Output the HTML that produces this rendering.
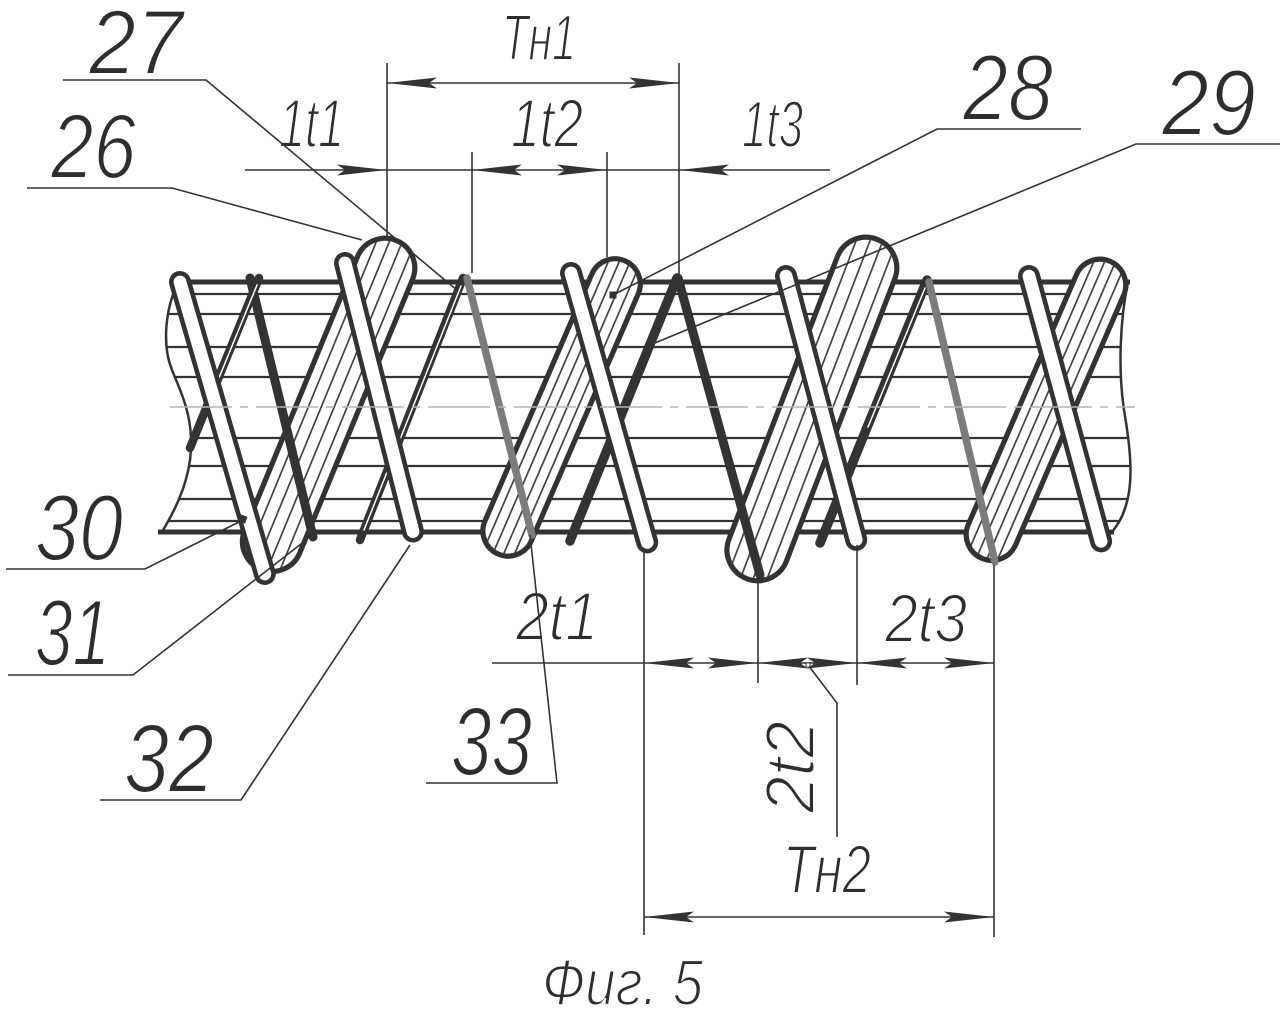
<!DOCTYPE html>
<html>
<head>
<meta charset="utf-8">
<style>
  html,body{margin:0;padding:0;background:#fff;}
  svg{display:block;}
  .lbl{font-family:"Liberation Sans","DejaVu Sans",sans-serif;font-style:italic;fill:#2e2e2e;stroke:#fff;stroke-width:2.0;}
</style>
</head>
<body>
<svg width="1286" height="1010" viewBox="0 0 1286 1010" xmlns="http://www.w3.org/2000/svg">
  <defs>
    <clipPath id="cyl">
      <path d="M178,282 H1128 C1120,320 1118,370 1124,410 C1130,445 1134,480 1126,505 C1122,520 1115,528 1112,532 H162 C172,515 186,490 190,460 C195,420 182,395 172,370 C162,345 165,310 178,282 Z"/>
    </clipPath>
    <clipPath id="h1"><rect x="-27.3" y="-27.3" width="54.6" height="350.6" rx="27.3"/></clipPath>
    <clipPath id="h2"><rect x="-23" y="-23" width="46" height="315" rx="23"/></clipPath>
    <clipPath id="h3"><rect x="-28.3" y="-28.3" width="56.6" height="358.6" rx="28.3"/></clipPath>
    <clipPath id="h4"><rect x="-23.3" y="-23.3" width="46.6" height="318.6" rx="23.3"/></clipPath>
  </defs>

  <rect width="1286" height="1010" fill="#fff"/>

  <!-- text labels -->
  <text class="lbl" x="89" y="74" font-size="92" textLength="94" lengthAdjust="spacingAndGlyphs">27</text>
  <text class="lbl" x="51" y="178" font-size="92" textLength="85" lengthAdjust="spacingAndGlyphs">26</text>
  <text class="lbl" x="502" y="60" font-size="65" textLength="74" lengthAdjust="spacingAndGlyphs">Тн1</text>
  <text class="lbl" x="279" y="147" font-size="69" textLength="65" lengthAdjust="spacingAndGlyphs">1t1</text>
  <text class="lbl" x="511" y="147" font-size="69" textLength="72" lengthAdjust="spacingAndGlyphs">1t2</text>
  <text class="lbl" x="742" y="147" font-size="66" textLength="61" lengthAdjust="spacingAndGlyphs">1t3</text>
  <text class="lbl" x="963" y="120" font-size="94" textLength="90" lengthAdjust="spacingAndGlyphs">28</text>
  <text class="lbl" x="1162" y="135" font-size="94" textLength="94" lengthAdjust="spacingAndGlyphs">29</text>
  <text class="lbl" x="35" y="560" font-size="94" textLength="88" lengthAdjust="spacingAndGlyphs">30</text>
  <text class="lbl" x="35" y="665" font-size="94" textLength="75" lengthAdjust="spacingAndGlyphs">31</text>
  <text class="lbl" x="124" y="792" font-size="97" textLength="90" lengthAdjust="spacingAndGlyphs">32</text>
  <text class="lbl" x="451" y="775" font-size="97" textLength="81" lengthAdjust="spacingAndGlyphs">33</text>
  <text class="lbl" x="516" y="640" font-size="69" textLength="82" lengthAdjust="spacingAndGlyphs">2t1</text>
  <text class="lbl" x="885" y="642" font-size="69" textLength="82" lengthAdjust="spacingAndGlyphs">2t3</text>
  <text class="lbl" transform="translate(814,813) rotate(-90)" x="0" y="0" font-size="70" textLength="92" lengthAdjust="spacingAndGlyphs">2t2</text>
  <text class="lbl" x="783" y="893" font-size="69" textLength="88" lengthAdjust="spacingAndGlyphs">Тн2</text>
  <text class="lbl" x="542" y="1005" font-size="65" textLength="161" lengthAdjust="spacingAndGlyphs">Фиг. 5</text>

  <!-- cylinder inner horizontal lines -->
  <g clip-path="url(#cyl)" stroke="#333" stroke-width="2.2">
    <line x1="150" y1="294" x2="1140" y2="294"/>
    <line x1="150" y1="314" x2="1140" y2="314"/>
    <line x1="150" y1="347" x2="1140" y2="347"/>
    <line x1="150" y1="377" x2="1140" y2="377"/>
    <line x1="150" y1="438" x2="1140" y2="438"/>
    <line x1="150" y1="466" x2="1140" y2="466"/>
    <line x1="150" y1="499" x2="1140" y2="499"/>
    <line x1="150" y1="521" x2="1140" y2="521"/>
  </g>
  <!-- cylinder edges -->
  <g fill="none" stroke="#333">
    <path d="M178,282 C165,310 162,345 172,370 C182,395 195,420 190,460 C186,490 172,515 162,532" stroke-width="2.5"/>
    <path d="M1128,282 C1120,320 1118,370 1124,410 C1130,445 1134,480 1126,505 C1122,520 1115,528 1112,532" stroke-width="2.5"/>
    <path d="M176,282 H1130" stroke-width="5"/>
    <path d="M158,532 H1114" stroke-width="5"/>
  </g>

  <!-- big hatched ovals -->
  <g transform="translate(385,268) rotate(22.4)">
    <rect x="-29.75" y="-29.75" width="59.5" height="355.5" rx="29.75" fill="#fff" stroke="#333" stroke-width="5.2"/>
    <g clip-path="url(#h1)" stroke="#444" stroke-width="1.7">
      <line x1="-18" y1="-40" x2="-18" y2="340"/>
      <line x1="-6" y1="-40" x2="-6" y2="340"/>
      <line x1="6" y1="-40" x2="6" y2="340"/>
      <line x1="18" y1="-40" x2="18" y2="340"/>
    </g>
  </g>
  <g transform="translate(615,284) rotate(23.4)">
    <rect x="-25.25" y="-25.25" width="50.5" height="319.5" rx="25.25" fill="#fff" stroke="#333" stroke-width="5.2"/>
    <g clip-path="url(#h2)" stroke="#444" stroke-width="1.7">
      <line x1="-15" y1="-40" x2="-15" y2="310"/>
      <line x1="-5" y1="-40" x2="-5" y2="310"/>
      <line x1="5" y1="-40" x2="5" y2="310"/>
      <line x1="15" y1="-40" x2="15" y2="310"/>
    </g>
  </g>
  <g transform="translate(866,268) rotate(21)">
    <rect x="-30.75" y="-30.75" width="61.5" height="363.5" rx="30.75" fill="#fff" stroke="#333" stroke-width="5.2"/>
    <g clip-path="url(#h3)" stroke="#444" stroke-width="1.7">
      <line x1="-19" y1="-40" x2="-19" y2="345"/>
      <line x1="-6" y1="-40" x2="-6" y2="345"/>
      <line x1="6" y1="-40" x2="6" y2="345"/>
      <line x1="19" y1="-40" x2="19" y2="345"/>
    </g>
  </g>
  <g transform="translate(1100,285) rotate(23.4)">
    <rect x="-25.75" y="-25.75" width="51.5" height="323.5" rx="25.75" fill="#fff" stroke="#333" stroke-width="5.2"/>
    <g clip-path="url(#h4)" stroke="#444" stroke-width="1.7">
      <line x1="-15" y1="-40" x2="-15" y2="315"/>
      <line x1="-5" y1="-40" x2="-5" y2="315"/>
      <line x1="5" y1="-40" x2="5" y2="315"/>
      <line x1="15" y1="-40" x2="15" y2="315"/>
    </g>
  </g>

  <!-- dark / gray wires -->
  <g stroke-linecap="round" fill="none">
    <line x1="250" y1="278" x2="313" y2="537" stroke="#333" stroke-width="9"/>
    <line x1="259" y1="278" x2="190" y2="448" stroke="#333" stroke-width="8.5"/>
    <line x1="257" y1="285" x2="214" y2="390" stroke="#fff" stroke-width="1.5"/>
    <line x1="463" y1="278" x2="360" y2="540" stroke="#333" stroke-width="8.5"/>
    <line x1="461" y1="286" x2="364" y2="530" stroke="#fff" stroke-width="1.5"/>
    <line x1="467" y1="278" x2="532" y2="535" stroke="#7c7c7c" stroke-width="7.5"/>
    <line x1="677" y1="278" x2="570" y2="541" stroke="#333" stroke-width="9.5"/>
    <line x1="678" y1="278" x2="760" y2="575" stroke="#333" stroke-width="9"/>
    <line x1="927" y1="280" x2="820" y2="543" stroke="#333" stroke-width="9.5"/>
    <line x1="925" y1="288" x2="868" y2="427" stroke="#fff" stroke-width="1.5"/>
    <line x1="929" y1="282" x2="995" y2="562" stroke="#7c7c7c" stroke-width="7.5"/>
  </g>

  <!-- thin white bars -->
  <g fill="#fff" stroke="#333" stroke-width="4.6">
    <rect transform="translate(180,282) rotate(-16.2)" x="-8.7" y="-8.7" width="17.4" height="321.4" rx="8.7"/>
    <rect transform="translate(345,263) rotate(-14.2)" x="-8.7" y="-8.7" width="17.4" height="294.4" rx="8.7"/>
    <rect transform="translate(571,273) rotate(-15.8)" x="-8.7" y="-8.7" width="17.4" height="297.4" rx="8.7"/>
    <rect transform="translate(786,276) rotate(-14.9)" x="-8.7" y="-8.7" width="17.4" height="290.4" rx="8.7"/>
    <rect transform="translate(1029,276) rotate(-15.2)" x="-8.7" y="-8.7" width="17.4" height="292.4" rx="8.7"/>
  </g>

  <!-- centerline -->
  <line x1="170" y1="407" x2="1135" y2="407" stroke="#b4b4b4" stroke-width="1.6" stroke-dasharray="62 8 8 8"/>

  <!-- small marks -->
  <rect x="609.5" y="291.5" width="7" height="7" fill="#333"/>
  <rect x="239.5" y="515.5" width="7" height="7" fill="#333" transform="rotate(20 243 519)"/>

  <!-- leaders -->
  <g fill="none" stroke="#333" stroke-width="1.6">
    <path d="M63,80 H206 L458,291"/>
    <path d="M27,188 H172 L362,240"/>
    <path d="M1081,129 H937 L613,295"/>
    <path d="M1280,144 H1136 L650,345"/>
    <path d="M6,569 H145 L243,520"/>
    <path d="M8,675 H133 L306,540"/>
    <path d="M100,800 H241 L410,545"/>
    <path d="M426,783 H557 L530,535"/>
    <path d="M808,665 L837,703 V837"/>
  </g>

  <!-- dimension & extension lines -->
  <g fill="none" stroke="#333" stroke-width="1.6">
    <path d="M387,63 V237"/>
    <path d="M679,63 V276"/>
    <path d="M472,152 V273"/>
    <path d="M607,152 V257"/>
    <path d="M387,83 H679"/>
    <path d="M245,170 H830"/>
    <path d="M644,548 V935"/>
    <path d="M758,578 V683"/>
    <path d="M857,545 V685"/>
    <path d="M994,565 V937"/>
    <path d="M492,663 H994"/>
    <path d="M644,917 H994"/>
  </g>

  <!-- arrowheads -->
  <g fill="#333">
    <polygon points="387,83 437,77.5 429,83 437,88.5"/>
    <polygon points="679,83 629,77.5 637,83 629,88.5"/>
    <polygon points="387,170 337,164.5 345,170 337,175.5"/>
    <polygon points="472,170 522,164.5 514,170 522,175.5"/>
    <polygon points="607,170 557,164.5 565,170 557,175.5"/>
    <polygon points="679,170 729,164.5 721,170 729,175.5"/>
    <polygon points="644,663 694,657.5 686,663 694,668.5"/>
    <polygon points="758,663 708,657.5 716,663 708,668.5"/>
    <polygon points="758,663 808,657.5 800,663 808,668.5"/>
    <polygon points="857,663 807,657.5 815,663 807,668.5"/>
    <polygon points="857,663 907,657.5 899,663 907,668.5"/>
    <polygon points="994,663 944,657.5 952,663 944,668.5"/>
    <polygon points="644,917 694,911.5 686,917 694,922.5"/>
    <polygon points="994,917 944,911.5 952,917 944,922.5"/>
  </g>
  <circle cx="808" cy="665" r="2.2" fill="#fff" stroke="#333" stroke-width="1"/>
</svg>
</body>
</html>
